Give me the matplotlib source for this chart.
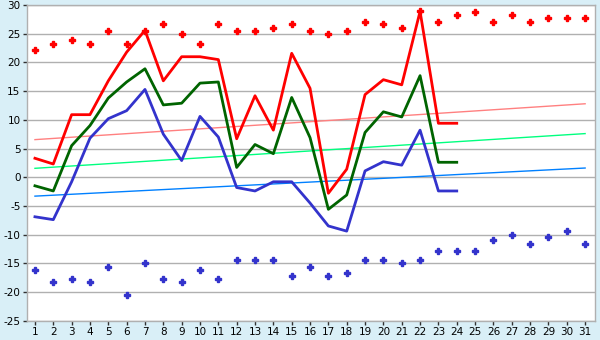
import matplotlib
matplotlib.use("Agg")
import matplotlib.pyplot as plt

plt.rcParams["axes.unicode_minus"] = False

# days of the month
days = list(range(1, 32))
line_days = list(range(1, 25))

# daily lines (24 days)
red_vals = [3.3, 2.3, 10.9, 10.9, 16.8, 21.8, 25.6, 16.8, 21.0, 21.0, 20.5, 6.7,
            14.2, 8.2, 21.6, 15.5, -2.8, 1.4, 14.4, 17.0, 16.1, 28.9, 9.4, 9.4]
green_vals = [-1.5, -2.4, 5.5, 9.0, 13.8, 16.6, 18.9, 12.6, 12.9, 16.4, 16.6, 1.7,
              5.7, 4.1, 13.9, 6.9, -5.6, -3.1, 7.8, 11.4, 10.5, 17.7, 2.6, 2.6]
blue_vals = [-6.9, -7.4, -0.8, 6.8, 10.2, 11.6, 15.3, 7.5, 2.9, 10.6, 7.0, -1.8,
             -2.4, -0.8, -0.8, -4.5, -8.5, -9.4, 1.1, 2.7, 2.1, 8.2, -2.4, -2.4]

# record points (31 days)
max_pts = [22.2, 23.3, 24.0, 23.3, 25.5, 23.3, 25.5, 26.7, 25.0, 23.3, 26.7, 25.5,
           25.5, 26.0, 26.7, 25.5, 25.0, 25.5, 27.1, 26.7, 26.0, 28.9, 27.1, 28.3,
           28.8, 27.1, 28.3, 27.1, 27.8, 27.8, 27.8]
min_pts = [-16.2, -18.3, -17.8, -18.3, -15.7, -20.5, -15.0, -17.8, -18.3, -16.2, -17.8, -14.5,
           -14.5, -14.5, -17.2, -15.7, -17.2, -16.7, -14.5, -14.5, -15.0, -14.5, -12.8, -12.8,
           -12.8, -11.0, -10.0, -11.6, -10.5, -9.3, -11.6]

# trend lines: value on day 1 and day 31
trend_red = [6.55, 12.8]
trend_green = [1.55, 7.6]
trend_blue = [-3.3, 1.6]

fig = plt.figure(figsize=(6, 3.4), dpi=100, facecolor="#d9eff7")
ax = fig.add_axes([0.0445, 0.057, 0.9475, 0.928])
ax.set_facecolor("white")

ax.set_xlim(0.55, 31.55)
ax.set_ylim(-25, 30)
ax.set_yticks(range(-25, 31, 5))
ax.set_xticks(days)
ax.grid(axis="y", color="#b0b0b0", linewidth=1)
ax.set_axisbelow(True)

for s in ax.spines.values():
    s.set_color("#b0b0b0")
    s.set_linewidth(1)

ax.tick_params(axis="both", labelsize=7.5, color="#303030", length=3, width=1, pad=1.5)

# trend lines
ax.plot([days[0], days[-1]], trend_red, color="#ff8080", lw=1)
ax.plot([days[0], days[-1]], trend_green, color="#00ff7f", lw=1)
ax.plot([days[0], days[-1]], trend_blue, color="#0080ff", lw=1)

# daily lines
ax.plot(line_days, red_vals, color="#ff0000", lw=2)
ax.plot(line_days, green_vals, color="#006400", lw=2)
ax.plot(line_days, blue_vals, color="#3333cc", lw=2)

# points
ax.plot(days, max_pts, linestyle="none", marker="P", markersize=4, color="#ff0000")
ax.plot(days, min_pts, linestyle="none", marker="P", markersize=4, color="#3333cc")

fig.savefig("out.png", dpi=100, facecolor=fig.get_facecolor())
